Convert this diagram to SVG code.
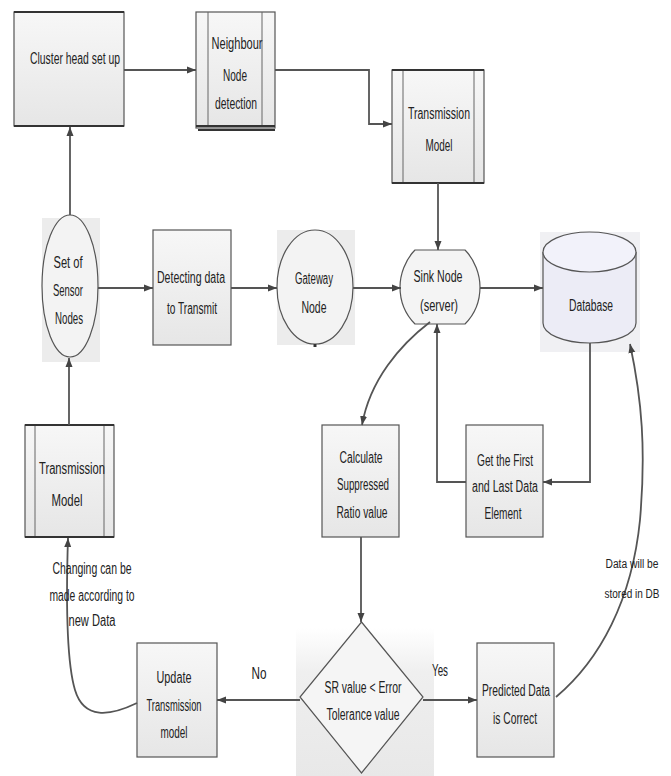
<svg xmlns="http://www.w3.org/2000/svg" width="671" height="776" viewBox="0 0 671 776">
<defs>
<linearGradient id="boxg" x1="0" y1="0" x2="0" y2="1">
<stop offset="0" stop-color="#f7f7f7"/><stop offset="1" stop-color="#e6e6e6"/>
</linearGradient>
<linearGradient id="bgg" x1="0" y1="0" x2="0" y2="1">
<stop offset="0" stop-color="#ffffff"/><stop offset="0.3" stop-color="#efefef"/><stop offset="1" stop-color="#e8e8e8"/>
</linearGradient>
<marker id="arr" markerWidth="10" markerHeight="10" refX="9" refY="5" orient="auto" markerUnits="userSpaceOnUse">
<path d="M0,1.5 L9,5 L0,8.5 Z" fill="#444"/>
</marker>
<style>
.box{fill:url(#boxg);stroke:#555;stroke-width:1.2}
.in{stroke:#666;stroke-width:1;fill:none}
.thick{stroke:#333;stroke-width:2.2}
.bg{fill:#ececec}
.t{font-family:"Liberation Sans",Arial,sans-serif;font-size:16px;fill:#222;text-anchor:middle}
.s{font-size:12px}
.c{fill:none;stroke:#555;stroke-width:1.8;marker-end:url(#arr)}
</style>
</defs>
<rect width="671" height="776" fill="#fff"/>

<g id="cluster">
<rect class="box" x="14" y="12" width="110" height="114"/>
<line class="thick" x1="14" y1="12" x2="124" y2="12"/>
<line class="thick" x1="14" y1="126" x2="124" y2="126"/>
<text class="t" x="75" y="64" textLength="90" lengthAdjust="spacingAndGlyphs">Cluster head set up</text>
</g>

<g id="neighbour">
<rect class="box" x="196" y="12" width="79" height="116"/>
<line class="in" x1="208" y1="12" x2="208" y2="126"/>
<line class="in" x1="262" y1="12" x2="262" y2="126"/>
<line class="thick" x1="196" y1="126" x2="275" y2="126"/>
<line class="thick" x1="198" y1="130" x2="275" y2="130"/>
<text class="t" x="237" y="49" textLength="51" lengthAdjust="spacingAndGlyphs">Neighbour</text>
<text class="t" x="235" y="81" textLength="24" lengthAdjust="spacingAndGlyphs">Node</text>
<text class="t" x="236" y="109" textLength="42" lengthAdjust="spacingAndGlyphs">detection</text>
</g>

<g id="transTop">
<rect class="box" x="392" y="70" width="92" height="113"/>
<line class="in" x1="403" y1="70" x2="403" y2="183"/>
<line class="in" x1="474" y1="70" x2="474" y2="183"/>
<line class="thick" x1="392" y1="70" x2="484" y2="70"/>
<line class="thick" x1="392" y1="183" x2="484" y2="183"/>
<text class="t" x="439" y="119" textLength="62" lengthAdjust="spacingAndGlyphs">Transmission</text>
<text class="t" x="439" y="151" textLength="27" lengthAdjust="spacingAndGlyphs">Model</text>
</g>

<g id="sensor">
<rect class="bg" x="42" y="218" width="58" height="144"/>
<ellipse cx="70" cy="286" rx="28" ry="71" fill="#f3f3f3" stroke="#555" stroke-width="1.2"/>
<text class="t" x="68" y="268" textLength="29" lengthAdjust="spacingAndGlyphs">Set of</text>
<text class="t" x="68" y="296" textLength="30" lengthAdjust="spacingAndGlyphs">Sensor</text>
<text class="t" x="69" y="324" textLength="28" lengthAdjust="spacingAndGlyphs">Nodes</text>
</g>

<g id="detecting">
<rect class="box" x="153" y="230" width="78" height="115"/>
<text class="t" x="191" y="283" textLength="68" lengthAdjust="spacingAndGlyphs">Detecting data</text>
<text class="t" x="192" y="314" textLength="50" lengthAdjust="spacingAndGlyphs">to Transmit</text>
</g>

<g id="gateway">
<rect class="bg" x="277" y="230" width="78" height="115"/>
<ellipse cx="315" cy="287" rx="38" ry="57" fill="#f3f3f3" stroke="#555" stroke-width="1.2"/>
<line x1="315" y1="344" x2="315" y2="347" stroke="#333" stroke-width="3"/>
<text class="t" x="314" y="284" textLength="38" lengthAdjust="spacingAndGlyphs">Gateway</text>
<text class="t" x="314" y="313" textLength="25" lengthAdjust="spacingAndGlyphs">Node</text>
</g>

<g id="sink">
<path d="M415,250 H465 C475,260 480,275 480,287 C480,300 475,314 465,324 H415 C405,314 400,300 400,287 C400,275 405,260 415,250 Z" fill="#f4f4f4" stroke="#555" stroke-width="1.2"/>
<text class="t" x="438" y="282" textLength="49" lengthAdjust="spacingAndGlyphs">Sink Node</text>
<text class="t" x="439" y="311" textLength="38" lengthAdjust="spacingAndGlyphs">(server)</text>
</g>

<g id="database">
<rect x="540" y="232" width="100" height="120" fill="#f0f0f3"/>
<path d="M543,252 V323 A46.5,20 0 0 0 636,323 V252" fill="#ececf6" stroke="#555" stroke-width="1.2"/>
<ellipse cx="589.5" cy="252" rx="46.5" ry="20" fill="#f2f2fa" stroke="#555" stroke-width="1.2"/>
<text class="t" x="591" y="311" textLength="44" lengthAdjust="spacingAndGlyphs">Database</text>
</g>

<g id="getFirst">
<rect class="box" x="466" y="425" width="77" height="112"/>
<text class="t" x="505" y="466" textLength="56" lengthAdjust="spacingAndGlyphs">Get the First</text>
<text class="t" x="505" y="492" textLength="66" lengthAdjust="spacingAndGlyphs">and Last Data</text>
<text class="t" x="503" y="519" textLength="37" lengthAdjust="spacingAndGlyphs">Element</text>
</g>

<g id="calculate">
<rect class="box" x="322" y="425" width="77" height="112"/>
<text class="t" x="361" y="463" textLength="43" lengthAdjust="spacingAndGlyphs">Calculate</text>
<text class="t" x="363" y="490" textLength="52" lengthAdjust="spacingAndGlyphs">Suppressed</text>
<text class="t" x="362" y="518" textLength="51" lengthAdjust="spacingAndGlyphs">Ratio value</text>
</g>

<g id="transLeft">
<rect class="box" x="25" y="425" width="89" height="112"/>
<line class="in" x1="35" y1="425" x2="35" y2="537"/>
<line class="in" x1="104" y1="425" x2="104" y2="537"/>
<line class="thick" x1="25" y1="425" x2="114" y2="425"/>
<line class="thick" x1="25" y1="537" x2="114" y2="537"/>
<text class="t" x="72" y="474" textLength="66" lengthAdjust="spacingAndGlyphs">Transmission</text>
<text class="t" x="67" y="506" textLength="31" lengthAdjust="spacingAndGlyphs">Model</text>
</g>

<g id="decision">
<rect x="296" y="628" width="138" height="148" fill="url(#bgg)"/>
<path d="M361.5,622 L423,697 L361.5,773 L300,697 Z" fill="#f5f5f5" stroke="#555" stroke-width="1.2"/>
<text class="t" x="363" y="693" textLength="77" lengthAdjust="spacingAndGlyphs">SR value &lt; Error</text>
<text class="t" x="363" y="720" textLength="73" lengthAdjust="spacingAndGlyphs">Tolerance value</text>
</g>

<g id="update">
<rect class="box" x="137" y="643" width="80" height="114"/>
<text class="t" x="174" y="683" textLength="35" lengthAdjust="spacingAndGlyphs">Update</text>
<text class="t" x="174" y="711" textLength="55" lengthAdjust="spacingAndGlyphs">Transmission</text>
<text class="t" x="174" y="738" textLength="27" lengthAdjust="spacingAndGlyphs">model</text>
</g>

<g id="predicted">
<rect class="box" x="477" y="643" width="77" height="114"/>
<text class="t" x="516" y="696" textLength="68" lengthAdjust="spacingAndGlyphs">Predicted Data</text>
<text class="t" x="515" y="724" textLength="44" lengthAdjust="spacingAndGlyphs">is Correct</text>
</g>

<g id="connectors">
<path class="c" d="M124,70 H196"/>
<path class="c" d="M275,70 H369 V124 H392"/>
<path class="c" d="M438,183 V250"/>
<path class="c" d="M70,215 V127"/>
<path class="c" d="M98,288 H153"/>
<path class="c" d="M231,288 H277"/>
<path class="c" d="M353,288 H401"/>
<path class="c" d="M480,288 H543"/>
<path class="c" d="M590,343 V482 H543"/>
<path class="c" d="M466,482 H437 V324"/>
<path class="c" d="M430,322 C400,345 370,380 362,425"/>
<path class="c" d="M361,537 V622"/>
<path class="c" d="M300,700 H217"/>
<path class="c" d="M423,700 H477"/>
<path class="c" d="M137,703 C110,716 84,720 75,690 C66,660 66,600 68,538"/>
<path class="c" d="M69,425 V358"/>
<path class="c" d="M556,697 C600,660 632,600 640,520 C646,450 642,400 630,344"/>
<text class="t" x="259" y="679" textLength="15" lengthAdjust="spacingAndGlyphs">No</text>
<text class="t" x="440" y="676" textLength="16" lengthAdjust="spacingAndGlyphs">Yes</text>
<text class="t" x="92" y="574" textLength="79" lengthAdjust="spacingAndGlyphs">Changing can be</text>
<text class="t" x="92" y="601" textLength="85" lengthAdjust="spacingAndGlyphs">made according to</text>
<text class="t" x="92" y="626" textLength="47" lengthAdjust="spacingAndGlyphs">new Data</text>
<text class="t s" x="632" y="568" textLength="53" lengthAdjust="spacingAndGlyphs">Data will be</text>
<text class="t s" x="632" y="598" textLength="55" lengthAdjust="spacingAndGlyphs">stored in DB</text>
</g>
</svg>
